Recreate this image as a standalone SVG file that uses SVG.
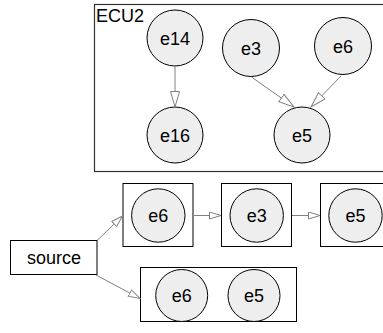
<svg xmlns="http://www.w3.org/2000/svg" width="383" height="333" viewBox="0 0 383 333">
  <defs>
    <marker id="arrowL" markerUnits="userSpaceOnUse" markerWidth="17" markerHeight="11" refX="16" refY="5" orient="auto">
      <path d="M0.5,0.5 L16,5 L0.5,9.5 Z" fill="#ffffff" stroke="#808080" stroke-width="1"/>
    </marker>
    <marker id="arrowS" markerUnits="userSpaceOnUse" markerWidth="13" markerHeight="9" refX="12" refY="4" orient="auto">
      <path d="M0.5,0.5 L12,4 L0.5,7.5 Z" fill="#ffffff" stroke="#808080" stroke-width="1"/>
    </marker>
  </defs>
  <style>
    .box { fill: #ffffff; stroke: #000000; stroke-width: 1; }
    .cluster { fill: #ffffff; stroke: #333333; stroke-width: 1.2; }
    .node { fill: #eeeeee; stroke: #000000; stroke-width: 1; }
    .lbl { font-family: "Liberation Sans", Arial, sans-serif; font-size: 18px; fill: #000000; text-anchor: middle; }
    .edge { stroke: #808080; stroke-width: 1; fill: none; }
  </style>

  <rect width="383" height="333" fill="#ffffff"/>

  <!-- cluster ECU2 -->
  <g id="ECU2">
    <rect class="cluster" x="94.5" y="4.5" width="300" height="167"/>
    <text class="lbl" x="96" y="22" style="text-anchor:start">ECU2</text>
  </g>

  <g id="ecu2_e14">
    <circle class="node" cx="175" cy="38" r="28"/>
    <text class="lbl" x="175" y="44.5">e14</text>
  </g>
  <g id="ecu2_e16">
    <circle class="node" cx="175" cy="135" r="28"/>
    <text class="lbl" x="175" y="141.5">e16</text>
  </g>
  <g id="ecu2_e3">
    <circle class="node" cx="251" cy="48" r="28.5"/>
    <text class="lbl" x="251" y="54.5">e3</text>
  </g>
  <g id="ecu2_e6">
    <circle class="node" cx="343" cy="46" r="28.5"/>
    <text class="lbl" x="343" y="52.5">e6</text>
  </g>
  <g id="ecu2_e5">
    <circle class="node" cx="302" cy="135" r="28"/>
    <text class="lbl" x="302" y="141.5">e5</text>
  </g>

  <!-- source -->
  <g id="source">
    <rect class="box" x="10.5" y="240.5" width="86.5" height="34"/>
    <text class="lbl" x="54" y="263.5">source</text>
  </g>

  <!-- chain boxes -->
  <g id="chain_e6">
    <rect class="box" x="123" y="183.5" width="70" height="63"/>
    <circle class="node" cx="158.3" cy="215.5" r="26.7"/>
    <text class="lbl" x="158.3" y="222">e6</text>
  </g>
  <g id="chain_e3">
    <rect class="box" x="221.5" y="183.5" width="70" height="63"/>
    <circle class="node" cx="256.7" cy="215.5" r="26.7"/>
    <text class="lbl" x="256.7" y="222">e3</text>
  </g>
  <g id="chain_e5">
    <rect class="box" x="320.5" y="183.5" width="70" height="63"/>
    <circle class="node" cx="355.5" cy="215.5" r="26.7"/>
    <text class="lbl" x="355.5" y="222">e5</text>
  </g>

  <!-- parallel group -->
  <g id="group_e6_e5">
    <rect class="box" x="140.5" y="267.5" width="156" height="54"/>
    <circle class="node" cx="181.7" cy="295.5" r="26"/>
    <text class="lbl" x="181.7" y="302">e6</text>
    <circle class="node" cx="254" cy="295.5" r="26"/>
    <text class="lbl" x="254" y="302">e5</text>
  </g>

  <!-- connectors -->
  <g id="edges">
    <line class="edge" x1="175" y1="66" x2="175" y2="107" marker-end="url(#arrowL)"/>
    <line class="edge" x1="251.5" y1="77" x2="294" y2="107" marker-end="url(#arrowL)"/>
    <line class="edge" x1="341" y1="76" x2="311" y2="107" marker-end="url(#arrowL)"/>
    <line class="edge" x1="97" y1="240.5" x2="122.5" y2="216" marker-end="url(#arrowS)"/>
    <line class="edge" x1="96" y1="275" x2="140" y2="298.5" marker-end="url(#arrowS)"/>
    <line class="edge" x1="193" y1="215.5" x2="221" y2="215.5" marker-end="url(#arrowS)"/>
    <line class="edge" x1="292" y1="215.5" x2="320" y2="215.5" marker-end="url(#arrowS)"/>
  </g>
</svg>
